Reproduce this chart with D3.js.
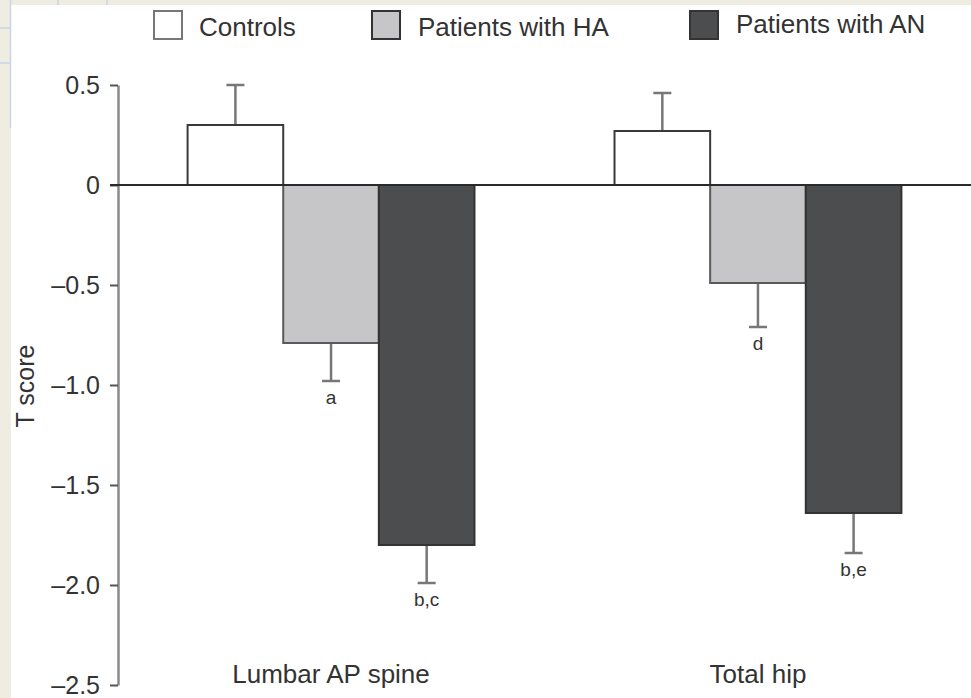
<!DOCTYPE html>
<html>
<head>
<meta charset="utf-8">
<script src="https://cdn.jsdelivr.net/npm/d3@7"></script>
<style>
  html, body { margin: 0; padding: 0; background: #efece2; }
  svg { display: block; font-family: "Liberation Sans", Arial, Helvetica, sans-serif; }
</style>
</head>
<body>
<svg id="chart" width="971" height="698"></svg>
<script>
// Skeletal sites on the x axis
const categories = ["Lumbar AP spine", "Total hip"];
// Study groups (legend order)
const groups = ["Controls", "Patients with HA", "Patients with AN"];
// Mean T scores and standard deviations per site
const controlsMean = [0.30, 0.27];
const controlsSD   = [0.20, 0.19];
const haMean       = [-0.79, -0.49];
const haSD         = [0.19, 0.22];
const anMean       = [-1.80, -1.64];
const anSD         = [0.19, 0.20];
// Significance markers printed under the error bars
const haMarks      = ["a", "d"];
const anMarks      = ["b,c", "b,e"];
// Y axis ticks
const yTicks       = [0.5, 0, -0.5, -1.0, -1.5, -2.0, -2.5];

const fills   = ["#ffffff", "#c6c6c8", "#4c4d4f"];
const strokes = ["#3a3a3a", "#5a5a5a", "#333333"];

const means = [controlsMean, haMean, anMean];
const sds   = [controlsSD, haSD, anSD];
const marks = [["", ""], haMarks, anMarks];

const svg = d3.select("#chart");
const W = 971, H = 698;

// page background with a white sheet and faint sheet grid lines
svg.append("rect").attr("x", 0).attr("y", 0).attr("width", W).attr("height", H).attr("fill", "#efece2");
svg.append("rect").attr("x", 11).attr("y", 5).attr("width", W - 11).attr("height", H - 5).attr("fill", "#ffffff");
const gridCol = "#c9d5e6";
svg.append("line").attr("x1", 10.5).attr("x2", 10.5).attr("y1", 0).attr("y2", 128).attr("stroke", gridCol).attr("stroke-width", 1.5);
[28, 63].forEach(y => svg.append("line").attr("x1", 0).attr("x2", 10).attr("y1", y).attr("y2", y).attr("stroke", gridCol).attr("stroke-width", 1.5));
[58, 107].forEach(x => svg.append("line").attr("x1", x).attr("x2", x).attr("y1", 0).attr("y2", 5).attr("stroke", gridCol).attr("stroke-width", 1.5));

// scales
const y = d3.scaleLinear().domain([-2.5, 0.5]).range([685, 85]);
const x0 = d3.scaleBand().domain(categories).range([118, 971]).paddingInner(0.328).paddingOuter(0.163);
const x1 = d3.scaleBand().domain(groups).range([0, x0.bandwidth()]).padding(0);

// y axis
const fmt = v => v === 0 ? "0" : (v < 0 ? "\u2013" : "") + Math.abs(v).toFixed(1);
const yAxis = svg.append("g")
  .attr("transform", "translate(118,0)")
  .call(d3.axisLeft(y).tickValues(yTicks).tickFormat(fmt).tickSize(8).tickPadding(10).tickSizeOuter(0));
yAxis.select(".domain").attr("stroke", "#8a8a8a").attr("stroke-width", 2.5);
yAxis.selectAll(".tick line").attr("stroke", "#555").attr("stroke-width", 2);
yAxis.selectAll(".tick text").attr("fill", "#333").attr("font-size", 25)
  .attr("font-family", "'Liberation Sans', Arial, sans-serif");

// y axis title
svg.append("text")
  .attr("transform", "translate(34,386) rotate(-90)")
  .attr("text-anchor", "middle")
  .attr("font-size", 25)
  .attr("fill", "#333")
  .text("T score");

// bars
const rows = [];
categories.forEach((c, ci) => groups.forEach((g, gi) => rows.push({ c, g, gi, v: means[gi][ci], sd: sds[gi][ci], mark: marks[gi][ci] })));

const cell = svg.append("g").selectAll("g").data(rows).join("g")
  .attr("transform", d => `translate(${x0(d.c) + x1(d.g)},0)`);

// error bars (one-sided, away from zero)
const errEnd = d => d.v >= 0 ? d.v + d.sd : d.v - d.sd;
cell.append("line")
  .attr("x1", x1.bandwidth() / 2).attr("x2", x1.bandwidth() / 2)
  .attr("y1", d => y(d.v)).attr("y2", d => y(errEnd(d)))
  .attr("stroke", "#777").attr("stroke-width", 2.5);
cell.append("line")
  .attr("x1", x1.bandwidth() / 2 - 9).attr("x2", x1.bandwidth() / 2 + 9)
  .attr("y1", d => y(errEnd(d))).attr("y2", d => y(errEnd(d)))
  .attr("stroke", "#777").attr("stroke-width", 2.5);

cell.append("rect")
  .attr("x", 0)
  .attr("width", x1.bandwidth())
  .attr("y", d => y(Math.max(0, d.v)))
  .attr("height", d => Math.abs(y(d.v) - y(0)))
  .attr("fill", d => fills[d.gi])
  .attr("stroke", d => strokes[d.gi])
  .attr("stroke-width", 2);

// significance letters
cell.filter(d => d.mark).append("text")
  .attr("x", x1.bandwidth() / 2)
  .attr("y", d => y(errEnd(d)) + 23)
  .attr("text-anchor", "middle")
  .attr("font-size", 19)
  .attr("fill", "#333")
  .text(d => d.mark);

// zero line
svg.append("line")
  .attr("x1", 110).attr("x2", W)
  .attr("y1", y(0)).attr("y2", y(0))
  .attr("stroke", "#2a2a2a").attr("stroke-width", 2);

// category labels
svg.append("g").selectAll("text").data(categories).join("text")
  .attr("x", d => x0(d) + x0.bandwidth() / 2)
  .attr("y", 683)
  .attr("text-anchor", "middle")
  .attr("font-size", 26)
  .attr("fill", "#333")
  .text(d => d);

// legend
const legendX = [153, 371, 689];
const legend = svg.append("g").selectAll("g").data(groups).join("g")
  .attr("transform", (d, i) => `translate(${legendX[i]},11)`);
legend.append("rect")
  .attr("x", 1).attr("y", 0).attr("width", 28).attr("height", 28)
  .attr("fill", (d, i) => fills[i])
  .attr("stroke", (d, i) => i === 0 ? "#777" : "#333")
  .attr("stroke-width", 2);
legend.append("text")
  .attr("x", (d, i) => i === 0 ? 46 : 47)
  .attr("y", (d, i) => i === 2 ? 22 : 25)
  .attr("font-size", 26)
  .attr("fill", "#333")
  .text(d => d);
</script>
</body>
</html>
